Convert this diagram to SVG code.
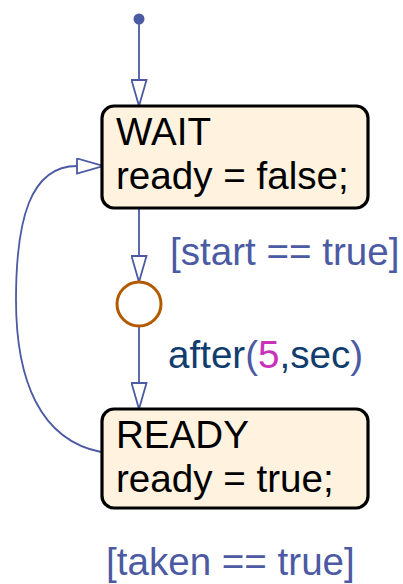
<svg xmlns="http://www.w3.org/2000/svg" width="403" height="584" viewBox="0 0 403 584">
<style>
.box{fill:#fff3e0;stroke:#000;stroke-width:3.2}
.t{font-family:"Liberation Sans",Arial,sans-serif;font-size:38.6px}
.nt{fill:#000}
.lbl{fill:#4b5aa3}
.conn{fill:none;stroke:#4b5aa3;stroke-width:1.8}
</style>
<defs>
<marker id="arr" viewBox="-1 -1 28 17" refX="26" refY="7.5" markerUnits="userSpaceOnUse" markerWidth="28" markerHeight="17" orient="auto">
<path d="M0,0 L26,7.5 L0,15 Z" fill="#fff" stroke="#4b5aa3" stroke-width="1.8"/>
</marker>
</defs>
<g id="connectors">
<circle cx="139" cy="19" r="5.5" fill="#4b5aa3"/>
<path class="conn" d="M139,19 L139,106" marker-end="url(#arr)"/>
<path class="conn" d="M139,208 L139,282" marker-end="url(#arr)"/>
<path class="conn" d="M139,326 L139,409" marker-end="url(#arr)"/>
<path class="conn" d="M101,452 C40,440 16,380 16,300 C16,220 30,166 77,166 L103,166" marker-end="url(#arr)"/>
<text class="t lbl" x="170" y="265">[start == true]</text>
<text class="t" x="168" y="368" fill="#103d6e">after<tspan fill="#4b5aa3">(</tspan><tspan fill="#c832b9">5</tspan>,sec<tspan fill="#4b5aa3">)</tspan></text>
<text class="t lbl" x="106" y="575">[taken == true]</text>
</g>
<g id="WAIT">
<rect class="box" x="102" y="106" width="266" height="102" rx="12"/>
<text class="t nt" x="116" y="145">WAIT</text>
<text class="t nt" x="116" y="189">ready = false;</text>
</g>
<g id="junction">
<circle cx="139" cy="304" r="22" fill="#fff" stroke="#b35a00" stroke-width="3"/>
</g>
<g id="READY">
<rect class="box" x="102" y="409" width="266" height="99" rx="12"/>
<text class="t nt" x="116" y="448">READY</text>
<text class="t nt" x="116" y="492">ready = true;</text>
</g>
</svg>
